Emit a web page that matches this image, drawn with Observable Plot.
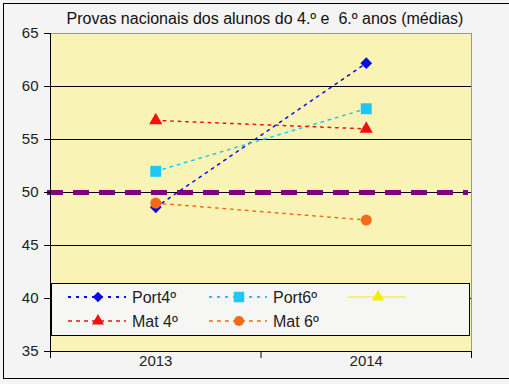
<!DOCTYPE html>
<html>
<head>
<meta charset="utf-8">
<script src="https://cdn.jsdelivr.net/npm/d3@7"></script>
<script src="https://cdn.jsdelivr.net/npm/@observablehq/plot@0.6"></script>
<style>
  html, body { margin: 0; padding: 0; background: #ffffff; }
  #wrap { position: relative; width: 509px; height: 384px; overflow: hidden; background: #f4f4f4; font-family: "Liberation Sans", Arial, sans-serif; }
  #outer { position: absolute; left: 3px; top: 3px; width: 520px; height: 376px; border: 1px solid #000; box-sizing: border-box; pointer-events: none; }
  #legend { position: absolute; left: 51px; top: 283px; width: 419px; height: 53px; box-sizing: border-box; border: 1px solid #000; background: #f6f6f4; }
  svg text { font-family: "Liberation Sans", Arial, sans-serif; }
</style>
</head>
<body>
<div id="wrap"><div id="chart"></div><div id="legend"></div><div id="outer"></div></div>
<script>
const title = "Provas nacionais dos alunos do 4.º e  6.º anos (médias)";
const years = [2013, 2014];
const seriesNames = ["Port4º", "Port6º", "", "Mat 4º", "Mat 6º"];
const seriesColors = ["#0a0ae6", "#1ec8f5", "#eeee00", "#f20f0f", "#f26a1a"];
const seriesSymbols = ["diamond2", "square", "triangle", "triangle", "circle"];
const port4 = [48.6, 62.2];
const port6 = [52.0, 57.9];
const yellow = [];
const mat4 = [56.8, 56.0];
const mat6 = [49.0, 47.4];
const yTicks = [35, 40, 45, 50, 55, 60, 65];
const gridValues = [40, 45, 50, 55, 60];
const refValue = 50;
const xEdges = [2012.5, 2013.5, 2014.5];

const seriesValues = [port4, port6, yellow, mat4, mat6];
const data = [];
seriesValues.forEach((vals, i) => {
  vals.forEach((v, j) => data.push({series: i, year: years[j], value: v}));
});
const bySeries = i => data.filter(d => d.series === i);
const symR = {diamond2: 5.3, square: 6.2, triangle: 4.9, circle: 5.5};

const marks = [
  Plot.frame({fill: "#f9f4b5", stroke: "#9a9a8a"}),
  Plot.ruleY(gridValues, {stroke: "#000", strokeWidth: 1}),
  Plot.ruleY([refValue], {stroke: "#800080", strokeWidth: 5, strokeDasharray: "16,10", insetLeft: -3, insetRight: 3}),
];
seriesValues.forEach((vals, i) => {
  if (!vals.length) return;
  marks.push(Plot.line(bySeries(i), {x: "year", y: "value", stroke: seriesColors[i], strokeWidth: 1.5, strokeDasharray: "2.5,5"}));
});
seriesValues.forEach((vals, i) => {
  if (!vals.length) return;
  const sym = seriesSymbols[i];
  marks.push(Plot.dot(bySeries(i), {x: "year", y: "value", fill: seriesColors[i], symbol: sym, r: symR[sym], stroke: null}));
});
marks.push(
  Plot.axisY({ticks: yTicks, tickSize: 6, tickPadding: 6, fontSize: 15, stroke: "#000", label: null, fill: "#222"}),
  Plot.axisX({ticks: xEdges, tickSize: 7, tickFormat: () => "", label: null}),
  Plot.axisX({ticks: years, tickSize: 0, tickPadding: 4, fontSize: 15, tickFormat: d => String(d), label: null, fill: "#222"}),
  Plot.ruleX([xEdges[0]], {stroke: "#000"}),
  Plot.ruleY([yTicks[0]], {stroke: "#000"}),
  Plot.text([title], {frameAnchor: "top", dy: -15, dx: 4, lineAnchor: "middle", fontSize: 16, fill: "#111", text: d => d})
);

const chart = Plot.plot({
  width: 509,
  height: 384,
  marginLeft: 50,
  marginRight: 38,
  marginTop: 33,
  marginBottom: 33,
  style: {background: "transparent", fontFamily: "Liberation Sans, Arial, sans-serif"},
  x: {domain: [xEdges[0], xEdges[2]]},
  y: {domain: [yTicks[0], yTicks[yTicks.length - 1]]},
  marks
});
document.getElementById("chart").appendChild(chart);

// Legend
const leg = d3.select("#legend").append("svg").attr("width", 417).attr("height", 51);
const colX = [16, 157, 296];
const rowY = [13, 37];
const symMap = {diamond2: d3.symbolDiamond2, square: d3.symbolSquare, triangle: d3.symbolTriangle, circle: d3.symbolCircle};
seriesNames.forEach((name, k) => {
  const i = k;
  const col = k < 3 ? k : k - 3;
  const row = k < 3 ? 0 : 1;
  const x0 = colX[col], y0 = rowY[row];
  const g = leg.append("g").attr("transform", `translate(${x0},${y0})`);
  const solid = seriesValues[i].length === 0;
  g.append("line").attr("x1", 0).attr("x2", 58).attr("y1", 0).attr("y2", 0)
    .attr("stroke", seriesColors[i]).attr("stroke-width", solid ? 1 : (row === 0 ? 2 : 1.3))
    .attr("stroke-dasharray", solid ? null : (row === 0 ? "3,5" : "4,4"));
  const sym = seriesSymbols[i];
  const size = sym === "circle" ? 80 : sym === "square" ? 110 : sym === "diamond2" ? 70 : 65;
  g.append("path").attr("d", d3.symbol(symMap[sym], size)()).attr("transform", "translate(30,0)").attr("fill", seriesColors[i]);
  if (name) {
    g.append("text").attr("x", 64).attr("y", 0).attr("dy", "0.36em").attr("font-size", 16).attr("fill", "#222").text(name);
  }
});
</script>
</body>
</html>
